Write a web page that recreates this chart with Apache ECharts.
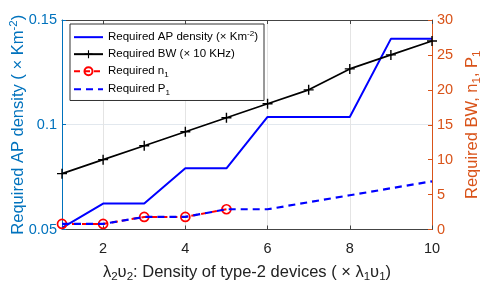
<!DOCTYPE html>
<html><head><meta charset="utf-8">
<script src="https://cdn.jsdelivr.net/npm/echarts@6/dist/echarts.min.js"></script>
<style>html,body{margin:0;padding:0;background:#fff}#c{width:485px;height:284px}</style>
</head><body><div id="c"></div>
<script>
const xValues = [1, 2, 3, 4, 5, 6, 7, 8, 9, 10];
const apDensity = [0.0508, 0.0624, 0.0624, 0.0792, 0.0792, 0.1037, 0.1037, 0.1037, 0.141, 0.141];
const bandwidth = [8, 10, 12, 14, 16, 18, 20, 23, 25, 27];
const n1Values = [0.8, 0.8, 1.8, 1.8, 2.9];
const p1Values = [0.8, 0.8, 1.8, 1.8, 2.9, 2.9, 3.9, 4.9, 5.9, 6.9];
const xTickValues = [2, 4, 6, 8, 10];

const FONT = 'Liberation Sans';
const LEFT_C = '#0072BD';
const RIGHT_C = '#D95319';
const pair = (ys) => ys.map((y, i) => [xValues[i], y]);
const subRich = (size) => ({
  sub: { fontSize: size * 0.7, fontFamily: FONT, padding: [size * 0.55, 0, 0, 0] },
  sup: { fontSize: size * 0.7, fontFamily: FONT, padding: [0, 0, size * 0.55, 0] }
});
const plusPath = 'path://M4.3,0H5.7V4.3H10V5.7H5.7V10H4.3V5.7H0V4.3H4.3Z';

const legendLabels = {
  ap: 'Required AP density (× Km{sup|-2})',
  bw: 'Required BW (× 10 KHz)',
  n1: 'Required n{sub|1}',
  p1: 'Required P{sub|1}'
};

const chart = echarts.init(document.getElementById('c'), null, { renderer: 'canvas' });
chart.setOption({
  animation: false,
  textStyle: { fontFamily: FONT },
  grid: { left: 62, right: 53, top: 20, bottom: 54.5, containLabel: false, outerBoundsMode: 'none' },
  legend: {
    orient: 'vertical', left: 70, top: 24,
    itemWidth: 29, itemHeight: 10, itemGap: 5,
    padding: [6, 6, 4, 3],
    backgroundColor: '#fff', borderColor: '#333', borderWidth: 1, borderRadius: 0,
    data: [
      { name: 'ap', itemStyle: { opacity: 0 } },
      { name: 'bw' },
      { name: 'n1' },
      { name: 'p1', itemStyle: { opacity: 0 } }
    ],
    formatter: (n) => legendLabels[n],
    textStyle: { fontSize: 11.5, color: '#000', fontFamily: FONT, rich: subRich(11.5) }
  },
  xAxis: [{
    type: 'value', min: 1, max: 10, interval: 1, position: 'bottom',
    axisLine: { lineStyle: { color: '#444', width: 1 } },
    axisTick: { inside: true, length: 4, customValues: xTickValues, lineStyle: { color: '#444' } },
    axisLabel: { customValues: xTickValues, fontSize: 14.5, color: '#222', margin: 12, fontFamily: FONT },
    splitLine: { show: true, lineStyle: { color: '#e4e4e4', width: 1 } },
    name: 'λ{sub|2}υ{sub|2}: Density of type-2 devices ( × λ{sub|1}υ{sub|1})',
    nameLocation: 'middle', nameGap: 32, nameMoveOverlap: false,
    nameTextStyle: { fontSize: 16.5, color: '#222', fontFamily: FONT, rich: subRich(16.5) }
  }, {
    type: 'value', min: 1, max: 10, interval: 1, position: 'top',
    axisLine: { lineStyle: { color: '#444', width: 1 } },
    axisTick: { inside: true, length: 4, customValues: xTickValues, lineStyle: { color: '#444' } },
    axisLabel: { show: false }, splitLine: { show: false }
  }],
  yAxis: [{
    type: 'value', min: 0.05, max: 0.15, interval: 0.05, position: 'left',
    axisLine: { show: true, lineStyle: { color: LEFT_C, width: 1 } },
    axisTick: { show: true, inside: true, length: 4, lineStyle: { color: LEFT_C } },
    axisLabel: { color: LEFT_C, fontSize: 14.5, margin: 5, fontFamily: FONT,
      formatter: (v) => String(+v.toFixed(2)) },
    splitLine: { show: true, lineStyle: { color: '#e2e8ee', width: 1 } },
    name: 'Required AP density ( × Km{sup|-2})',
    nameLocation: 'middle', nameGap: 33, nameRotate: 90, nameMoveOverlap: false,
    nameTextStyle: { fontSize: 16.5, color: LEFT_C, fontFamily: FONT, rich: subRich(16.5) }
  }, {
    type: 'value', min: 0, max: 30, interval: 5, position: 'right',
    axisLine: { show: true, lineStyle: { color: RIGHT_C, width: 1 } },
    axisTick: { show: true, inside: true, length: 4, lineStyle: { color: RIGHT_C } },
    axisLabel: { color: RIGHT_C, fontSize: 14.5, margin: 5, fontFamily: FONT },
    splitLine: { show: false },
    name: 'Required BW, n{sub|1}, P{sub|1}',
    nameLocation: 'middle', nameGap: 30, nameRotate: 90, nameMoveOverlap: false,
    nameTextStyle: { fontSize: 16.5, color: RIGHT_C, fontFamily: FONT, rich: subRich(16.5) }
  }],
  series: [{
    name: 'ap', type: 'line', xAxisIndex: 0, yAxisIndex: 0, data: pair(apDensity),
    symbol: 'none', lineStyle: { color: '#0000FF', width: 2 }, itemStyle: { color: '#0000FF' }, z: 3
  }, {
    name: 'bw', type: 'line', xAxisIndex: 0, yAxisIndex: 1, data: pair(bandwidth),
    symbol: plusPath, symbolSize: 10, showAllSymbol: true,
    lineStyle: { color: '#000', width: 1.7 }, itemStyle: { color: '#000' }, z: 4
  }, {
    name: 'n1', type: 'line', xAxisIndex: 0, yAxisIndex: 1, data: pair(n1Values),
    symbol: 'circle', symbolSize: 9, showAllSymbol: true,
    lineStyle: { color: '#FF0000', width: 2, type: [6, 4] },
    itemStyle: { color: 'rgba(255,255,255,0)', borderColor: '#FF0000', borderWidth: 1.7 }, z: 3
  }, {
    name: 'p1', type: 'line', xAxisIndex: 0, yAxisIndex: 1, data: pair(p1Values),
    symbol: 'none', lineStyle: { color: '#0000FF', width: 2.2, type: [7, 5] },
    itemStyle: { color: '#0000FF' }, z: 4
  }]
});
</script></body></html>
